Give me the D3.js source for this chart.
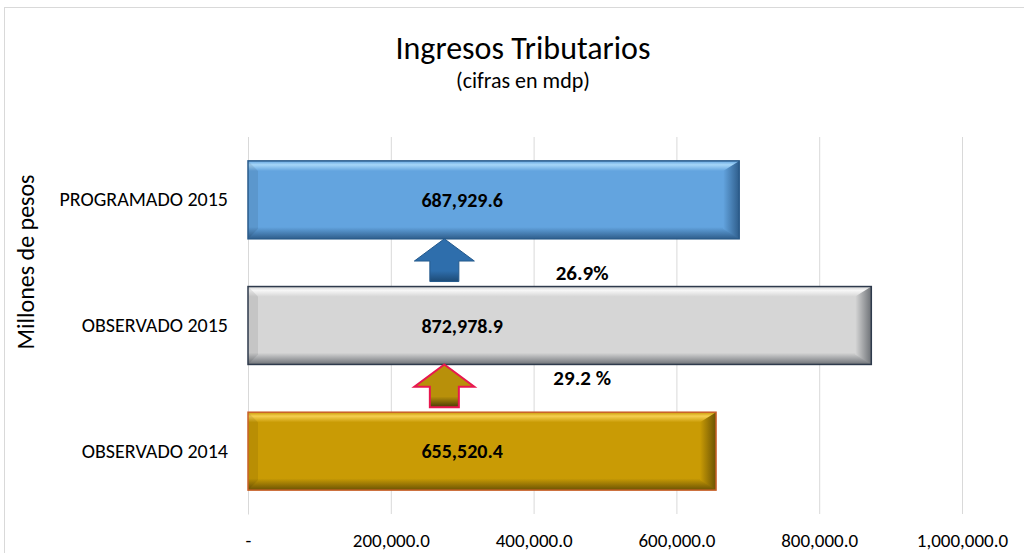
<!DOCTYPE html>
<html>
<head>
<meta charset="utf-8">
<script src="https://cdn.jsdelivr.net/npm/d3@7"></script>
<style>
  html, body { margin: 0; padding: 0; background: #fff; }
  svg { display: block; font-family: Carlito, Lato, "Open Sans", sans-serif; }
</style>
</head>
<body>
<svg id="mount" width="1024" height="553"></svg>
<script>
// Chart data
var categories = ["PROGRAMADO 2015", "OBSERVADO 2015", "OBSERVADO 2014"];
var values = [687929.6, 872978.9, 655520.4];
var valueLabels = ["687,929.6", "872,978.9", "655,520.4"];
var growthLabels = ["26.9%", "29.2 %"];
var xTicks = [0, 200000, 400000, 600000, 800000, 1000000];

// Styles per bar
var barFill = ["#63a4df", "#d6d6d6", "#c99b05"];
var barLight = ["#a6d6f8", "#f7f7f7", "#f6cf50"];
var barDark = ["#2f5e8c", "#6e7277", "#6b5304"];
var barStroke = ["#2a5b8a", "#2e3a4c", "#c8602a"];
var arrowFill = ["#2e6eac", "#b8900a"];
var arrowDark = ["#1d4a75", "#4a3a05"];
var arrowStroke = ["#24598c", "#e8174f"];

var fmt = d3.format(",.1f");
var fontFamily = "Carlito, Lato, 'Open Sans', sans-serif";

var svg = d3.select("#mount");
var margin = { top: 137, right: 62, bottom: 39, left: 248 };
var width = 1024 - margin.left - margin.right;
var height = 553 - margin.top - margin.bottom;

var defs = svg.append("defs");

// Outer chart border
svg.append("rect")
  .attr("x", 4.5).attr("y", 7.5)
  .attr("width", 1100).attr("height", 600)
  .attr("fill", "#fff")
  .attr("stroke", "#d9d9d9");

// Title
svg.append("text")
  .attr("x", 523).attr("y", 59)
  .attr("text-anchor", "middle")
  .style("font-size", "32px")
  .attr("fill", "#000")
  .text("Ingresos Tributarios");
svg.append("text")
  .attr("x", 523).attr("y", 88)
  .attr("text-anchor", "middle")
  .style("font-size", "22px")
  .attr("fill", "#000")
  .text("(cifras en mdp)");

var g = svg.append("g")
  .attr("transform", "translate(" + margin.left + "," + margin.top + ")");

var xScale = d3.scaleLinear().domain([0, 1000000]).range([0, 714]);
var yScale = d3.scaleBand()
  .domain(categories)
  .range([0, height])
  .paddingInner(0.38)
  .paddingOuter(0.19);

// Grid + x axis
var xAxis = g.append("g")
  .attr("transform", "translate(0," + height + ")")
  .call(d3.axisBottom(xScale)
    .tickValues(xTicks)
    .tickSize(-height)
    .tickPadding(20)
    .tickFormat(function(d) { return d === 0 ? "-" : fmt(d); }));
xAxis.select(".domain").remove();
xAxis.selectAll("line").attr("stroke", "#d9d9d9");
xAxis.selectAll("text")
  .attr("fill", "#000")
  .style("font-size", "19px")
  .style("font-family", fontFamily);

// y axis (category labels)
var yAxis = g.append("g")
  .call(d3.axisLeft(yScale).tickSize(0).tickPadding(20));
yAxis.select(".domain").attr("stroke", "#d9d9d9");
yAxis.selectAll("text")
  .attr("fill", "#000")
  .style("font-size", "20px")
  .style("font-family", fontFamily);

// Axis title
svg.append("text")
  .attr("transform", "translate(26,262) rotate(-90)")
  .attr("dy", "0.35em")
  .attr("text-anchor", "middle")
  .style("font-size", "24px")
  .attr("fill", "#000")
  .text("Millones de pesos");

// Bevel gradients per bar
categories.forEach(function(c, i) {
  var grad = defs.append("linearGradient")
    .attr("id", "bar" + i)
    .attr("x1", 0).attr("y1", 0).attr("x2", 0).attr("y2", 1);
  grad.append("stop").attr("offset", "0%").attr("stop-color", barFill[i]);
  grad.append("stop").attr("offset", "5%").attr("stop-color", barLight[i]);
  grad.append("stop").attr("offset", "13%").attr("stop-color", barFill[i]);
  grad.append("stop").attr("offset", "85%").attr("stop-color", barFill[i]);
  grad.append("stop").attr("offset", "100%").attr("stop-color", barDark[i]);
  var endGrad = defs.append("linearGradient")
    .attr("id", "barEnd" + i)
    .attr("x1", 0).attr("y1", 0).attr("x2", 1).attr("y2", 0);
  endGrad.append("stop").attr("offset", "0%").attr("stop-color", barFill[i]);
  endGrad.append("stop").attr("offset", "100%").attr("stop-color", barDark[i]);
});

var bevel = 10;
var bars = g.selectAll(".bar")
  .data(values)
  .enter()
  .append("g")
  .attr("class", "bar");

bars.append("rect")
  .attr("x", 0)
  .attr("y", function(d, i) { return yScale(categories[i]); })
  .attr("width", function(d) { return xScale(d); })
  .attr("height", yScale.bandwidth())
  .attr("fill", function(d, i) { return "url(#bar" + i + ")"; });

// right end bevel
bars.append("path")
  .attr("fill", function(d, i) { return "url(#barEnd" + i + ")"; })
  .attr("d", function(d, i) {
    var x1 = xScale(d), y0 = yScale(categories[i]), y1 = y0 + yScale.bandwidth();
    return "M" + x1 + "," + y0 + "L" + (x1 - bevel * 1.6) + "," + (y0 + bevel) +
      "L" + (x1 - bevel * 1.6) + "," + (y1 - bevel) + "L" + x1 + "," + y1 + "Z";
  });

// left end bevel (slight shade)
bars.append("path")
  .attr("fill", "#000")
  .attr("opacity", 0.08)
  .attr("d", function(d, i) {
    var y0 = yScale(categories[i]), y1 = y0 + yScale.bandwidth();
    return "M0," + y0 + "L" + bevel + "," + (y0 + bevel) +
      "L" + bevel + "," + (y1 - bevel) + "L0," + y1 + "Z";
  });

bars.append("rect")
  .attr("x", 0)
  .attr("y", function(d, i) { return yScale(categories[i]); })
  .attr("width", function(d) { return xScale(d); })
  .attr("height", yScale.bandwidth())
  .attr("fill", "none")
  .attr("stroke", function(d, i) { return barStroke[i]; })
  .attr("stroke-width", 1.5);

// value labels
bars.append("text")
  .attr("x", xScale(300000))
  .attr("y", function(d, i) { return yScale(categories[i]) + yScale.bandwidth() / 2; })
  .attr("dy", "0.35em")
  .attr("text-anchor", "middle")
  .style("font-size", "20px")
  .style("font-weight", "bold")
  .attr("fill", "#000")
  .text(function(d, i) { return valueLabels[i]; });

// Growth arrows between bars
var arrowX = xScale(275000);
growthLabels.forEach(function(label, i) {
  var top = yScale(categories[i]) + yScale.bandwidth();
  var bottom = yScale(categories[i + 1]);
  var gap = bottom - top;
  var h = gap - 5;
  var headH = h * 0.52, headW = 30, stemW = 14.5;

  var ag = defs.append("linearGradient")
    .attr("id", "arrow" + i)
    .attr("x1", 0).attr("y1", 0).attr("x2", 0).attr("y2", 1);
  ag.append("stop").attr("offset", "0%").attr("stop-color", arrowFill[i]);
  ag.append("stop").attr("offset", "75%").attr("stop-color", arrowFill[i]);
  ag.append("stop").attr("offset", "100%").attr("stop-color", arrowDark[i]);

  g.append("path")
    .attr("d", "M" + arrowX + "," + top +
      "L" + (arrowX + headW) + "," + (top + headH) +
      "L" + (arrowX + stemW) + "," + (top + headH) +
      "L" + (arrowX + stemW) + "," + (top + h) +
      "L" + (arrowX - stemW) + "," + (top + h) +
      "L" + (arrowX - stemW) + "," + (top + headH) +
      "L" + (arrowX - headW) + "," + (top + headH) + "Z")
    .attr("fill", "url(#arrow" + i + ")")
    .attr("stroke", arrowStroke[i])
    .attr("stroke-width", i === 0 ? 1 : 2)
    .attr("stroke-linejoin", "miter");

  g.append("text")
    .attr("x", xScale(468000))
    .attr("y", top + gap * (i === 0 ? 0.7 : 0.27))
    .attr("dy", "0.35em")
    .attr("text-anchor", "middle")
    .style("font-size", "21px")
    .style("font-weight", "bold")
    .attr("fill", "#000")
    .text(label);
});
</script>
</body>
</html>
